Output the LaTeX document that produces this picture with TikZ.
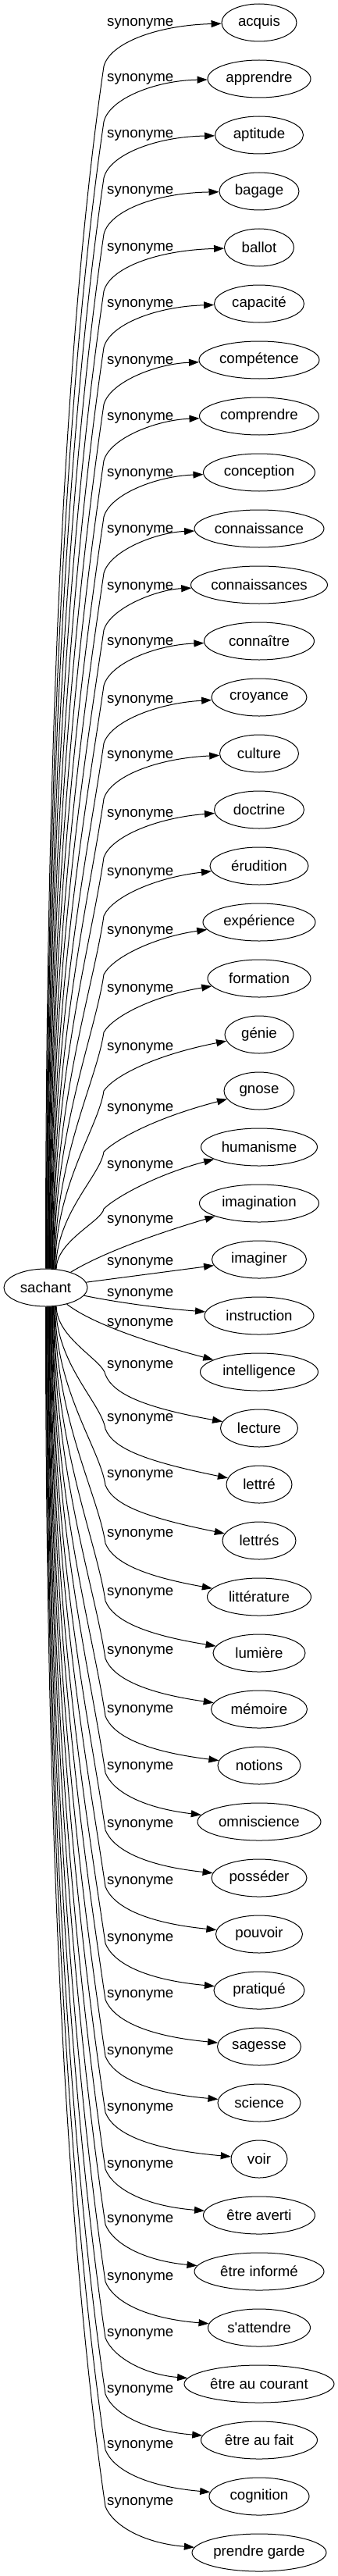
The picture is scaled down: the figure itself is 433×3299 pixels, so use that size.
\documentclass[tikz,border=0pt]{standalone}
\usepackage{fontspec}
\setmainfont{Liberation Sans}[Ligatures=TeXOff]
\usetikzlibrary{shapes.geometric,arrows.meta}
\newcommand\lblfont{\fontsize{18.67pt}{22pt}\selectfont}
\begin{document}
\begin{tikzpicture}[x=1pt,y=-1pt,
  word/.style={ellipse, draw, line width=1pt, minimum height=48pt, inner sep=0pt, font=\lblfont},
  rel/.style={anchor=west, inner sep=0pt, font=\lblfont},
  link/.style={draw, line width=1pt, -{Triangle[length=13pt,width=9pt]}}]
\useasboundingbox (0,0) rectangle (433,3299);
\node[word, minimum width=107pt] (sachant) at (58.5,1649) {sachant};
\foreach \kk/\txt/\ww/\LL in {1/acquis/96/30, 2/apprendre/132/101, 3/aptitude/113/173, 4/bagage/102/245,
  5/ballot/89/318, 6/capacité/115/390, 7/compétence/154/463, 8/comprendre/153/535,
  9/conception/143/607, 10/connaissance/166/679, 11/connaissances/175/752, 12/connaître/141/823,
  13/croyance/122/897, 14/culture/101/968, 15/doctrine/115/1043, 16/érudition/126/1118,
  17/expérience/144/1193, 18/formation/132/1267, 19/génie/88/1342, 20/gnose/90/1420,
  21/humanisme/149/1493, 22/imagination/153/1563, 23/imaginer/121/1617, 24/instruction/140/1657,
  25/intelligence/151/1695, 26/lecture/99/1749, 27/lettré/84/1817, 28/lettrés/94/1889,
  29/littérature/133/1965, 30/lumière/118/2040, 31/mémoire/123/2115, 32/notions/106/2190,
  33/omniscience/158/2263, 34/posséder/122/2337, 35/pouvoir/111/2410, 36/pratiqué/116/2483,
  37/sagesse/107/2555, 38/science/106/2628, 39/voir/72/2700, 40/être averti/143/2773,
  41/être informé/166/2843, 42/s'attendre/131/2917, 43/être au courant/192/2989,
  44/être au fait/149/3061, 45/cognition/128/3132, 46/prendre garde/172/3205} {
  \pgfmathsetmacro\NN{29+72*(\kk-1)}
  \node[word, minimum width=\ww pt] (t\kk) at (332,\NN) {\txt};
  \node[rel] (l\kk) at (137,\LL) {synonyme};
  \ifnum\kk<22
    \pgfmathtruncatemacro\ang{90-(\kk-1)*1.5}
    \pgfmathsetmacro\rr{1284/sqrt((24*cos(\ang))^2+(53.5*sin(\ang))^2)}
    \pgfmathsetmacro\sx{58.5+\rr*cos(\ang)}
    \pgfmathsetmacro\sy{1649-\rr*sin(\ang)}
    \pgfmathsetmacro\by{\LL+55}
    \pgfmathsetmacro\DD{\sy-\by}
    \pgfmathsetmacro\dd{\LL-\NN}
    \draw[link] (sachant.\ang) .. controls (\sx,{\sy-0.47*\DD}) and ({133-0.03*\DD},{\by+0.205*\DD}) .. (133,\by)
      .. controls ({140+0.4*\dd},{\LL+25+0.6*\dd}) and (200,{\LL+2+0.4*\dd}) .. (t\kk);
  \fi
  \ifnum\kk>25
    \pgfmathtruncatemacro\ang{-60-(\kk-26)*1.5}
    \pgfmathsetmacro\rr{1284/sqrt((24*cos(\ang))^2+(53.5*sin(\ang))^2)}
    \pgfmathsetmacro\sx{58.5+\rr*cos(\ang)}
    \pgfmathsetmacro\sy{1649-\rr*sin(\ang)}
    \pgfmathsetmacro\ee{max(0,\NN-\LL-64)}
    \pgfmathsetmacro\by{\LL+5+0.4*\ee}
    \pgfmathsetmacro\DD{\by-\sy}
    \draw[link] (sachant.\ang) .. controls (\sx,{\sy+0.47*\DD}) and ({135-0.03*\DD},{\by-0.205*\DD}) .. (135,\by)
      .. controls (145,{\by+25}) and (185,{\NN-12-0.9*\ee}) .. (t\kk);
  \fi
}
\draw[link] (sachant) .. controls (130,1605) and (200,1580) .. (t22);
\draw[link] (sachant) -- (t23);
\draw[link] (sachant) .. controls (150,1668) and (210,1676) .. (t24);
\draw[link] (sachant) .. controls (120,1697) and (200,1722) .. (t25);
\end{tikzpicture}
\end{document}
